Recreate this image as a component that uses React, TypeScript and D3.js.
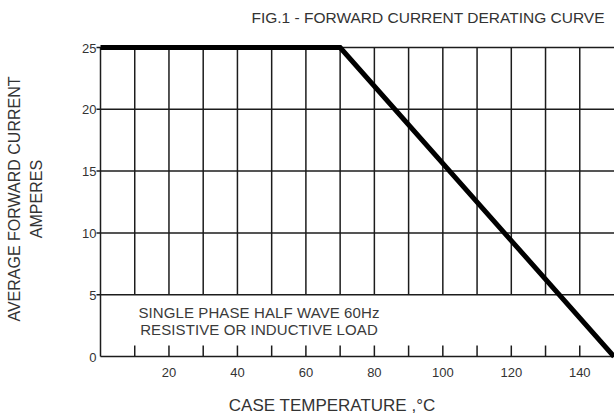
import * as d3 from 'd3'
import { useEffect } from 'react'

// derating curve: case temperature (°C) vs average forward current (A)
const curveTemps = [0, 70, 150]
const curveAmps = [25, 25, 0]

const xTickLabels = [20, 40, 60, 80, 100, 120, 140]
const yTickLabels = [0, 5, 10, 15, 20, 25]
const gridTemps = [10, 20, 30, 40, 50, 60, 70, 80, 90, 100, 110, 120, 130, 140]
const gridAmps = [5, 10, 15, 20, 25]

const title = 'FIG.1 - FORWARD CURRENT DERATING CURVE'
const xTitle = 'CASE TEMPERATURE ,°C'
const yTitle = ['AVERAGE FORWARD CURRENT', 'AMPERES']
const noteLines = ['SINGLE PHASE HALF WAVE 60Hz', 'RESISTIVE OR INDUCTIVE LOAD']

export default function App() {
  useEffect(() => {
    document.body.style.margin = '0'
  }, [])

  const width = 614
  const height = 417
  const x = d3.scaleLinear().domain([0, 150]).range([100.5, 614])
  const y = d3.scaleLinear().domain([0, 25]).range([356.5, 47.5])

  const points = curveTemps.map((t, i) => [t, curveAmps[i]] as [number, number])
  const line = d3
    .line<[number, number]>()
    .x((d) => x(d[0]))
    .y((d) => y(d[1]))

  const font = 'Arial, "Liberation Sans", sans-serif'
  const ink = '#1c1c1c'
  const textColor = '#333'

  return (
    <svg width={width} height={height} style={{ display: 'block', background: '#fff' }} fontFamily={font}>
      {/* title */}
      <text x={428} y={23} textAnchor="middle" fontSize={15.5} fill={textColor}>
        {title}
      </text>

      {/* horizontal grid */}
      {gridAmps.map((a) => (
        <line key={'h' + a} x1={x(0) - 4} x2={x(150)} y1={y(a)} y2={y(a)} stroke={ink} strokeWidth={1.5} />
      ))}

      {/* vertical grid, from top down to 5 A */}
      {gridTemps.map((t) => (
        <line key={'v' + t} x1={x(t)} x2={x(t)} y1={y(25)} y2={y(5)} stroke={ink} strokeWidth={1.5} />
      ))}

      {/* bottom ticks */}
      {gridTemps.map((t) => (
        <line key={'t' + t} x1={x(t)} x2={x(t)} y1={y(0)} y2={y(0) - 11} stroke={ink} strokeWidth={1.5} />
      ))}

      {/* axes */}
      <line x1={x(0)} x2={x(0)} y1={y(25)} y2={y(0)} stroke={ink} strokeWidth={1.5} />
      <line x1={x(0)} x2={x(150)} y1={y(0)} y2={y(0)} stroke={ink} strokeWidth={1.5} />

      {/* y tick labels */}
      {yTickLabels.map((a) => (
        <text key={'yl' + a} x={x(0) - 4} y={y(a) + 5} textAnchor="end" fontSize={13} fill={textColor}>
          {a}
        </text>
      ))}

      {/* x tick labels */}
      {xTickLabels.map((t) => (
        <text key={'xl' + t} x={x(t)} y={377} textAnchor="middle" fontSize={13} fill={textColor}>
          {t}
        </text>
      ))}

      {/* note */}
      {noteLines.map((s, i) => (
        <text
          key={'n' + i}
          x={259}
          y={318 + i * 17}
          textAnchor="middle"
          fontSize={15}
          letterSpacing={0.1}
          fill="#3a3a3a"
        >
          {s}
        </text>
      ))}

      {/* curve */}
      <path d={line(points) ?? ''} fill="none" stroke="#000" strokeWidth={5} strokeLinejoin="miter" />

      {/* axis titles */}
      <text x={332} y={411} textAnchor="middle" fontSize={17} fill={textColor}>
        {xTitle}
      </text>
      {yTitle.map((s, i) => (
        <text
          key={'yt' + i}
          transform={`translate(${20 + i * 22},199) rotate(-90)`}
          textAnchor="middle"
          fontSize={16}
          fill={textColor}
        >
          {s}
        </text>
      ))}
    </svg>
  )
}
